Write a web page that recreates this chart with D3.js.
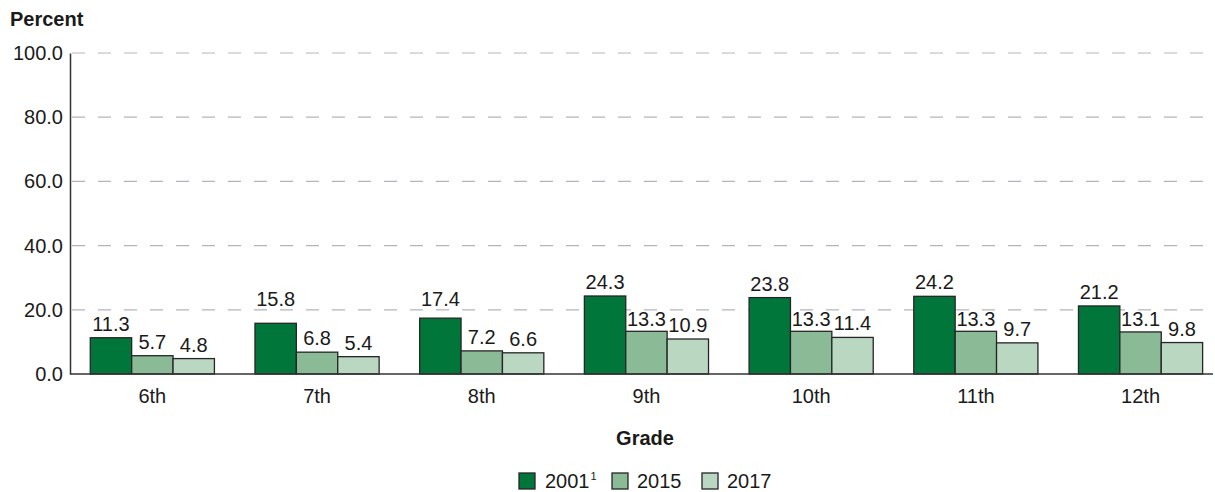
<!DOCTYPE html>
<html>
<head>
<meta charset="utf-8">
<script src="https://cdn.jsdelivr.net/npm/d3@7"></script>
<style>
  body { margin: 0; background: #fff; }
  svg text { font-family: "Liberation Sans", Arial, sans-serif; fill: #1a1a1a; }
</style>
</head>
<body>
<div class="container"></div>
<script>
const grades = ["6th", "7th", "8th", "9th", "10th", "11th", "12th"]
const years = ["2001", "2015", "2017"]
const values2001 = [11.3, 15.8, 17.4, 24.3, 23.8, 24.2, 21.2]
const values2015 = [5.7, 6.8, 7.2, 13.3, 13.3, 13.3, 13.1]
const values2017 = [4.8, 5.4, 6.6, 10.9, 11.4, 9.7, 9.8]
const yTicks = [0, 20, 40, 60, 80, 100]
const colors = ["#00763a", "#8aba96", "#b9d7c1"]

const width = 1215
const height = 492
const plotLeft = 70
const plotRight = 1213
const plotTop = 53
const plotBottom = 374
const fontSize = 20

const series = [values2001, values2015, values2017]
let rows = []
grades.forEach((g, i) => {
    years.forEach((y, j) => rows.push({grade: g, year: y, value: series[j][i]}))
})

const svg = d3.select(".container").append("svg")
    .attr("width", width)
    .attr("height", height)

const xScale = d3.scaleBand()
    .domain(grades)
    .range([plotLeft, plotLeft + 7 * 164.7])

const xInner = d3.scaleBand()
    .domain(years)
    .range([0, xScale.bandwidth()])
    .paddingOuter(0.49)
    .paddingInner(0)

const yScale = d3.scaleLinear()
    .domain([0, 100])
    .range([plotBottom, plotTop])

// gridlines
svg.append("g")
    .selectAll("line")
    .data(yTicks.filter(d => d > 0))
    .enter()
    .append("line")
    .attr("x1", plotLeft)
    .attr("x2", plotRight)
    .attr("y1", d => yScale(d))
    .attr("y2", d => yScale(d))
    .attr("stroke", "#b4b4c0")
    .attr("stroke-width", 1.2)
    .attr("stroke-dasharray", "13,13")
    .attr("stroke-dashoffset", -2)

// y axis
const yAxis = d3.axisLeft(yScale).tickValues(yTicks).tickFormat(d3.format(".1f")).tickSize(0).tickPadding(7)
const gy = svg.append("g")
    .attr("id", "y-axis")
    .attr("transform", `translate(${plotLeft},0)`)
    .call(yAxis)
gy.select(".domain").attr("stroke", "#333").attr("stroke-width", 1.5)
gy.selectAll("text").attr("font-size", fontSize).style("font-family", "Liberation Sans, Arial, sans-serif").attr("fill", "#1a1a1a")

// bars
svg.append("g")
    .selectAll("rect")
    .data(rows)
    .enter()
    .append("rect")
    .attr("x", d => xScale(d.grade) + xInner(d.year))
    .attr("y", d => yScale(d.value))
    .attr("width", xInner.bandwidth())
    .attr("height", d => yScale(0) - yScale(d.value))
    .attr("fill", d => colors[years.indexOf(d.year)])
    .attr("stroke", "#262626")
    .attr("stroke-width", 1.3)

// value labels, kept off the gridlines
function labelY(v) {
    let b = yScale(v) - 7
    yTicks.forEach(t => {
        const g = yScale(t)
        const topEdge = b - 14
        if (t > 0 && topEdge < g + 2 && b > g - 3) {
            b = (g - topEdge) < 4 ? g + 16 : g - 4
        }
    })
    return b
}

svg.append("g")
    .selectAll("text")
    .data(rows)
    .enter()
    .append("text")
    .attr("x", d => xScale(d.grade) + xInner(d.year) + xInner.bandwidth() / 2)
    .attr("y", d => labelY(d.value))
    .attr("text-anchor", "middle")
    .attr("font-size", fontSize)
    .text(d => d.value.toFixed(1))

// x axis
const xAxis = d3.axisBottom(xScale).tickSize(0).tickPadding(15)
const gx = svg.append("g")
    .attr("id", "x-axis")
    .attr("transform", `translate(0,${plotBottom})`)
    .call(xAxis)
gx.select(".domain").attr("d", `M${plotLeft},0H${plotRight}`).attr("stroke", "#333").attr("stroke-width", 1.5)
gx.selectAll("text").attr("font-size", fontSize).style("font-family", "Liberation Sans, Arial, sans-serif").attr("fill", "#1a1a1a")

// titles
svg.append("text")
    .attr("x", 10)
    .attr("y", 26)
    .attr("font-size", fontSize)
    .attr("font-weight", "bold")
    .text("Percent")

svg.append("text")
    .attr("x", 645)
    .attr("y", 445)
    .attr("text-anchor", "middle")
    .attr("font-size", fontSize)
    .attr("font-weight", "bold")
    .text("Grade")

// legend
const legendX = [519, 612, 702]
const legend = svg.append("g")
    .selectAll("g")
    .data(years)
    .enter()
    .append("g")
    .attr("transform", (d, i) => `translate(${legendX[i]},473)`)

legend.append("rect")
    .attr("width", 16)
    .attr("height", 16)
    .attr("fill", (d, i) => colors[i])
    .attr("stroke", "#262626")
    .attr("stroke-width", 1.3)

const lt = legend.append("text")
    .attr("x", d => d === "2001" ? 26 : 25)
    .attr("y", 14.5)
    .attr("font-size", fontSize)
    .text(d => d)
lt.filter(d => d === "2001")
    .append("tspan")
    .attr("font-size", 11)
    .attr("dy", -8)
    .attr("dx", 1)
    .text("1")
</script>
</body>
</html>
